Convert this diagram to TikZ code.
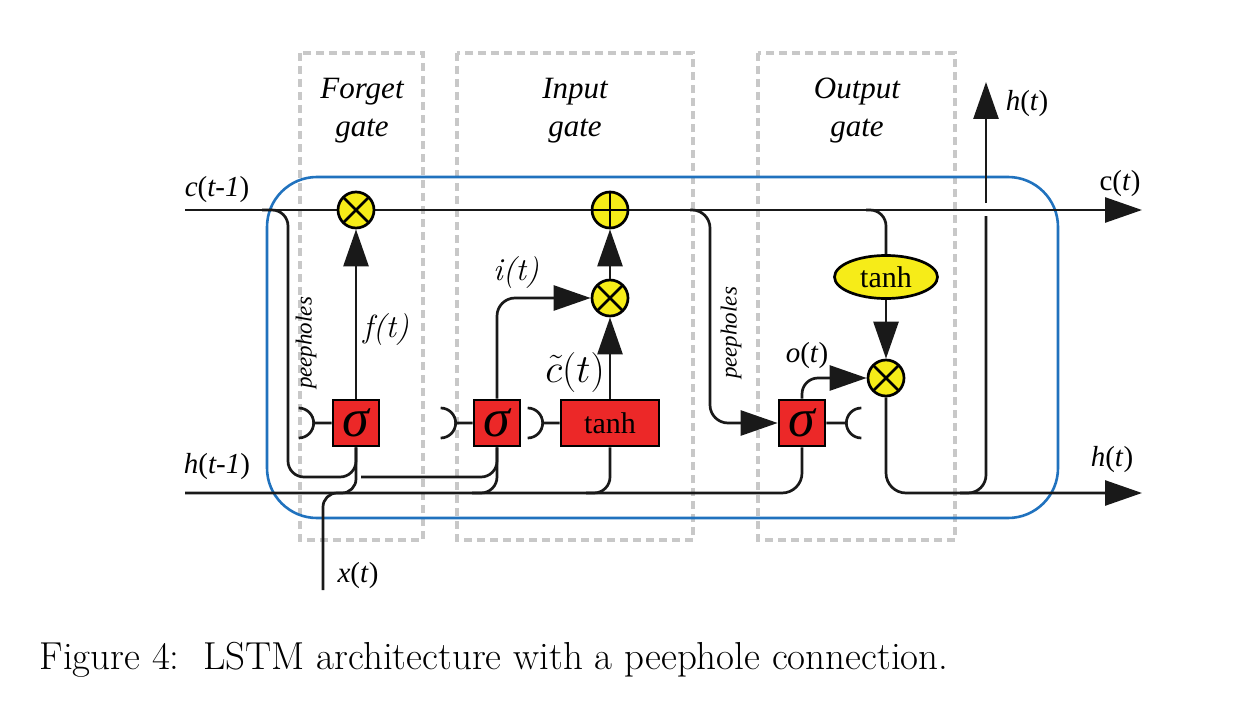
\RequirePackage{fix-cm}
\documentclass[tikz,border=0pt]{standalone}
\usepackage{fontspec}
\usepackage{xcolor}
\newfontfamily\diagfont{Liberation Serif}
\usetikzlibrary{arrows.meta,shapes.geometric}
\definecolor{gateyellow}{RGB}{246,236,24}
\definecolor{gatered}{RGB}{236,40,40}
\definecolor{cellblue}{RGB}{32,114,190}
\definecolor{boxgray}{RGB}{200,200,200}

\begin{document}
\begin{tikzpicture}[x=1pt, y=-1pt,
	line/.style={line width=2.7pt, black!90},
	arr/.style={line, -{Triangle[length=37pt,width=25pt]}},
	gatebox/.style={boxgray, line width=3.5pt, dash pattern=on 8pt off 5pt},
	lbl/.style={font=\fontsize{29}{34}\selectfont\diagfont},
	mlbl/.style={font=\fontsize{32}{36}\selectfont}]
	\useasboundingbox (0,0) rectangle (1252,706);
	
	\draw[gatebox] (300,53) rectangle (423,540);
	\draw[gatebox] (457,53) rectangle (693,540);
	\draw[gatebox] (758,53) rectangle (955,540);
	\draw[cellblue, line width=2.6pt, rounded corners=50pt] (267,177) rectangle (1058,518);
	
	\node[lbl, align=center, font=\fontsize{31}{38}\selectfont\diagfont\itshape] (Tf) at (362,111) {Forget\\gate};
	\node[lbl, align=center, font=\fontsize{31}{38}\selectfont\diagfont\itshape] (Ti) at (575,111) {Input\\gate};
	\node[lbl, align=center, font=\fontsize{31}{38}\selectfont\diagfont\itshape] (To) at (857,111) {Output\\gate};
	
	\coordinate (cin) at (185,210);
	\coordinate (cout) at (1142,210);
	\coordinate (hin) at (185,493);
	\coordinate (hout) at (1142,493);
	\coordinate (xin) at (323,590);
	\coordinate (hup) at (986,82);
	
	\begin{scope}[
		sigbox/.style={draw, line width=2.7pt, fill=gatered, minimum width=46pt, minimum height=46pt, inner sep=0pt,
			font=\fontsize{54}{54}\selectfont\diagfont\itshape},
		tanhbox/.style={draw, line width=2.7pt, fill=gatered, minimum width=98pt, minimum height=46pt, inner sep=0pt,
			font=\fontsize{30}{30}\selectfont\diagfont},
		tanhell/.style={ellipse, draw, line width=2.7pt, fill=gateyellow, minimum width=103pt, minimum height=43pt, inner sep=0pt,
			font=\fontsize{30}{30}\selectfont\diagfont}]
		\node[sigbox] (SigF) at (356,423) {σ};
		\node[sigbox] (SigI) at (497,423) {σ};
		\node[tanhbox] (TanhI) at (610,423) {tanh};
		\node[sigbox] (SigO) at (802,423) {σ};
		\node[tanhell] (TanhC) at (886,277) {tanh};
	\end{scope}
	
	% cell state and hidden state lines
	\draw[arr] (cin) -- (cout);
	\draw[line, rounded corners=20pt] (hin) -- (802,493) -- (SigO.south);
	\draw[line, rounded corners=16pt] (472,493) -- (497,493) -- (SigI.south);
	\draw[line, rounded corners=16pt] (586,493) -- (610,493) -- (TanhI.south);
	\draw[line, rounded corners=14pt] (xin) -- (323,493) -- (356,493) -- (SigF.south);
	\draw[line, rounded corners=16pt] (262,210) -- (288,210) -- (288,477) -- (356,477) -- (SigF.south);
	\draw[line, rounded corners=16pt] (361,477) -- (497,477) -- (SigI.south);
	
	% peephole stubs
	\draw[line] (SigF.west) -- ++(-18,0) ++(-15,-15) arc[start angle=-90, end angle=90, radius=15];
	\draw[line] (SigI.west) -- ++(-17,0) ++(-15,-15) arc[start angle=-90, end angle=90, radius=15];
	\draw[line] (TanhI.west) -- ++(-17,0) ++(-15,-15) arc[start angle=-90, end angle=90, radius=15];
	\draw[line] (SigO.east) -- ++(20,0) ++(15,-15) arc[start angle=-90, end angle=-270, radius=15];
	\draw[arr, rounded corners=18pt] (690,210) -- (710,210) -- (710,423) -- (SigO.west);
	
	\begin{scope}[
		mult/.style={circle, draw, line width=2.7pt, fill=gateyellow, minimum size=36pt, inner sep=0pt,
			path picture={\draw[line width=2.7pt] (path picture bounding box.north west) -- (path picture bounding box.south east)
				(path picture bounding box.north east) -- (path picture bounding box.south west);}},
		plus/.style={circle, draw, line width=2.7pt, fill=gateyellow, minimum size=36pt, inner sep=0pt,
			path picture={\draw[line width=2.7pt] (path picture bounding box.north) -- (path picture bounding box.south)
				(path picture bounding box.east) -- (path picture bounding box.west);}}]
		\node[mult] (MulF) at (356,210) {};
		\node[plus] (Add) at (610,210) {};
		\node[mult] (MulI) at (610,298) {};
		\node[mult] (MulO) at (886,378) {};
	\end{scope}
	
	\draw[arr] (SigF.north) -- (MulF.south);
	\draw[arr, rounded corners=18pt] (SigI.north) -- (497,298) -- (MulI.west);
	\draw[arr] (TanhI.north) -- (MulI.south);
	\draw[arr] (MulI.north) -- (Add.south);
	\draw[line, rounded corners=16pt] (866,210) -- (886,210) -- (TanhC.north);
	\draw[arr] (TanhC.south) -- (MulO.north);
	\draw[arr, rounded corners=16pt] (SigO.north) -- (802,378) -- (MulO.west);
	\draw[arr, rounded corners=20pt] (MulO.south) -- (886,493) -- (hout);
	\draw[line, rounded corners=18pt] (960,493) -- (986,493) -- (986,216);
	\draw[arr] (986,203) -- (hup);
	
	% labels
	\node[lbl] (Lc0) at (217,190) {\textit{c}(\textit{t-1})};
	\node[lbl] (Lh0) at (217,467) {\textit{h}(\textit{t-1})};
	\node[lbl] (Lx) at (358,576) {\textit{x}(\textit{t})};
	\node[mlbl] (Lf) at (386,330) {\textit{f(t)}};
	\node[mlbl] (Li) at (516,273) {\textit{i(t)}};
	\node[mlbl, font=\fontsize{40}{44}\selectfont, inner sep=1pt] (Lct) at (575,372) {$\tilde{c}(t)$};
	\node[lbl] (Lo) at (807,356) {\textit{o}(\textit{t})};
	\node[lbl] (Lhu) at (1027,104) {\textit{h}(\textit{t})};
	\node[lbl] (Lc) at (1120,184) {c(\textit{t})};
	\node[lbl] (Lh) at (1112,460) {\textit{h}(\textit{t})};
	\node[lbl, font=\fontsize{23}{26}\selectfont\diagfont\itshape, rotate=90] (Pf) at (306,343) {peepholes};
	\node[lbl, font=\fontsize{23}{26}\selectfont\diagfont\itshape, rotate=90] (Po) at (731,333) {peepholes};
	
	\node[anchor=west, font=\fontsize{39}{44}\selectfont] (Cap) at (36,660) {Figure 4:\ \ LSTM architecture with a peephole connection.};
\end{tikzpicture}
\end{document}
